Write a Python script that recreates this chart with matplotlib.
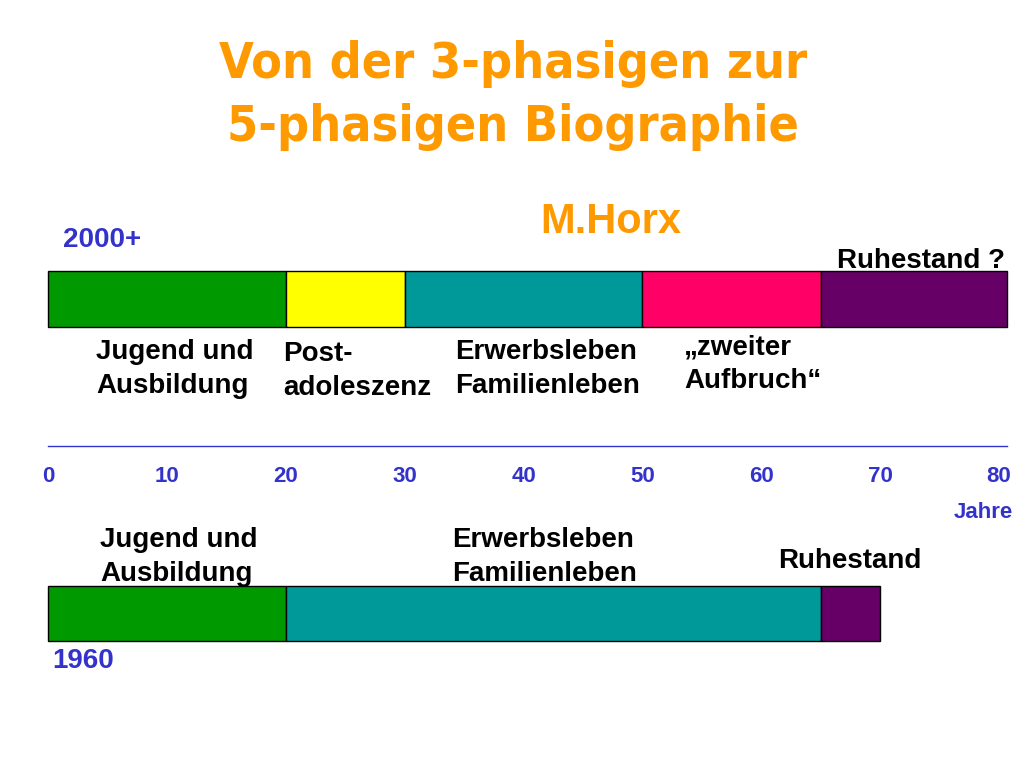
#!/usr/bin/env python3
"""
Von der 3-phasigen zur 5-phasigen Biographie (M. Horx) - timeline slide.
"""

import matplotlib.pyplot as plt

# Phases of life, 2000+ model (years)
phases_2000 = ['Jugend und\nAusbildung', 'Post-\nadoleszenz',
               'Erwerbsleben\nFamilienleben', '\u201ezweiter\nAufbruch\u201c',
               'Ruhestand ?']
starts_2000 = [0, 20, 30, 50, 65]
ends_2000 = [20, 30, 50, 65, 80.7]
colors_2000 = ['#009900', '#FFFF00', '#009999', '#FF0066', '#660066']

# Phases of life, 1960 model (years)
phases_1960 = ['Jugend und\nAusbildung', 'Erwerbsleben\nFamilienleben', 'Ruhestand']
starts_1960 = [0, 20, 65]
ends_1960 = [20, 65, 70]
colors_1960 = ['#009900', '#009999', '#660066']

# Age axis
age_ticks = [0, 10, 20, 30, 40, 50, 60, 70, 80]
axis_end = 80.7

ORANGE = '#FF9900'
BLUE = '#3333CC'
BODY = ['Liberation Sans', 'DejaVu Sans']


def generate_slide():
    fig = plt.figure(figsize=(10.24, 7.68), dpi=100)
    ax = fig.add_axes([0, 0, 1, 1])
    px_per_year = (999 - 48) / 80
    ax.set_xlim(-48 / px_per_year, (1024 - 48) / px_per_year)
    ax.set_ylim(768, 0)
    ax.axis('off')

    def px(x):
        return (x - 48) / px_per_year

    # Title
    for line, y in zip(['Von der 3-phasigen zur', '5-phasigen Biographie'], [78, 141]):
        ax.text(px(513), y, line, ha='center', va='baseline', fontsize=36,
                fontweight='bold', fontstretch='condensed', color=ORANGE,
                family='DejaVu Sans')
    ax.text(px(540), 233, 'M.Horx', ha='left', va='baseline',
            fontsize=30, fontweight='bold', color=ORANGE, family=BODY)

    # 2000+ bar
    widths = [e - s for s, e in zip(starts_2000, ends_2000)]
    ax.barh(299, widths, left=starts_2000, height=56, color=colors_2000,
            edgecolor='black', linewidth=1)
    ax.text(px(63), 247, '2000+', ha='left', va='baseline',
            fontsize=20, fontweight='bold', color=BLUE, family=BODY)
    label_x = [96, 283, 455, 684]
    label_y = [393, 395, 393, 388]
    for lab, x, y in zip(phases_2000[:4], label_x, label_y):
        ax.text(px(x), y, lab, ha='left', va='baseline',
                fontsize=20, fontweight='bold', linespacing=1.38, family=BODY)
    ax.text(ends_2000[-1] - 0.2, 268, phases_2000[4], ha='right', va='baseline',
            fontsize=20, fontweight='bold', family=BODY)

    # Age axis
    ax.plot([0, axis_end], [446, 446], color=BLUE, linewidth=1)
    for t in age_ticks:
        ax.text(t, 482, str(t), ha='center', va='baseline', fontsize=16,
                fontweight='bold', color=BLUE, family=BODY)
    ax.text(px(1013), 518, 'Jahre', ha='right', va='baseline',
            fontsize=16, fontweight='bold', color=BLUE, family=BODY)

    # 1960 bar
    widths = [e - s for s, e in zip(starts_1960, ends_1960)]
    ax.barh(613.5, widths, left=starts_1960, height=55, color=colors_1960,
            edgecolor='black', linewidth=1)
    ax.text(px(52), 668, '1960', ha='left', va='baseline',
            fontsize=20, fontweight='bold', color=BLUE, family=BODY)
    label_x = [100, 452, 778]
    label_y = [581, 581, 568]
    for lab, x, y in zip(phases_1960, label_x, label_y):
        ax.text(px(x), y, lab, ha='left', va='baseline',
                fontsize=20, fontweight='bold', linespacing=1.38, family=BODY)

    plt.savefig('out.png', dpi=100, facecolor='white')
    plt.close()


if __name__ == '__main__':
    generate_slide()
